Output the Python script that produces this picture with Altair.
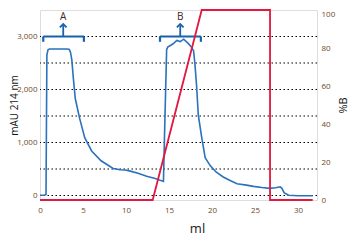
import altair as alt
import pandas as pd

# UV trace (ml, mAU 214 nm)
uv_ml = [0, 0.5, 0.7, 0.8, 0.93, 1.1, 3.2, 3.4, 3.55, 3.7, 3.85, 4.1, 4.6, 5.2, 6.0,
         7.1, 8.5, 9.3, 9.9, 10.5, 11.4, 12.4, 13.4, 14.35, 14.5, 14.72, 14.85, 15.3,
         15.6, 15.9, 16.3, 16.7, 17.2, 17.6, 17.85, 18.0, 18.2, 18.4, 18.8, 19.2, 19.8,
         20.5, 21.3, 22.1, 22.9, 24.0, 24.8, 25.8, 26.7, 27.4, 27.9, 28.1, 28.4, 28.9,
         30.0, 31.7]
uv_mau = [5, 5, 20, 2650, 2750, 2765, 2765, 2755, 2700, 2560, 2260, 1830, 1460, 1090, 840,
          655, 510, 485, 480, 460, 420, 365, 320, 265, 1300, 2750, 2800, 2845,
          2880, 2925, 2905, 2950, 2875, 2800, 2730, 2500, 2075, 1520, 1090, 715, 560,
          440, 350, 283, 222, 195, 172, 150, 135, 145, 165, 140, 50, 5,
          -5, -5]

# Gradient (%B)
b_ml = [0, 13.1, 18.8, 26.74, 26.74, 31.7]
b_pct = [0, 0, 100, 100, 0, 0]

# Fraction brackets
br_label = ["A", "B"]
br_left = [0.38, 13.95]
br_right = [5.1, 18.7]
br_center = [2.7, 16.3]

grid_vals = [0, 500, 1000, 1500, 2000, 2500, 3000]
x_ticks = [0, 5, 10, 15, 20, 25, 30]
y_ticks = [0, 1000, 2000, 3000]
b_ticks = [0, 20, 40, 60, 80, 100]

BLUE = "#2a72bb"
BR = "#1662ad"
RED = "#e3173f"
LBL = "#6b4a2a"
FONT = "Open Sans"

uv = pd.DataFrame({"ml": uv_ml, "mAU": uv_mau, "i": range(len(uv_ml))})
gb = pd.DataFrame({"ml": b_ml, "B": b_pct, "i": range(len(b_ml))})
br = pd.DataFrame({"label": br_label, "l": br_left, "r": br_right, "c": br_center})
br["y0"] = 3000
br["ytk"] = 2900
br["ytop"] = 3210
br["ytxt"] = 3360
grid = pd.DataFrame({"g": grid_vals})

xs = alt.Scale(domain=[0, 32.2], nice=False)
ys = alt.Scale(domain=[-85, 3500], nice=False)

xax = alt.Axis(values=x_ticks, format=".0f", title="ml", ticks=False, domain=False, grid=False,
               labelFlush=False, labelPadding=6, labelColor=LBL, labelFontSize=8,
               labelFont=FONT, titleFont=FONT, titleFontSize=13, titleFontWeight="normal",
               titleColor="#222", titleX=157, titleY=28, titleBaseline="middle")
yax = alt.Axis(values=y_ticks, format=",.0f", title="mAU 214 nm", ticks=False, domain=False,
               grid=False, labelFlush=False, labelPadding=3, labelColor=LBL,
               labelFontSize=8, labelFont=FONT, titleFont=FONT, titleFontSize=10,
               titleFontWeight="normal", titleColor="#111", titleX=-25.5, titleY=95,
               titleAngle=270, titleAlign="center", titleBaseline="middle")
bax = alt.Axis(values=b_ticks, format=".0f", title="%B", orient="right", ticks=False,
               domain=False, grid=False, labelFlush=False, labelPadding=4, labelColor=LBL,
               labelBaseline=alt.condition("datum.value == 100", alt.value("top"),
                                           alt.value("middle")),
               labelFontSize=8, labelFont=FONT, titleFont=FONT, titleFontSize=11,
               titleFontWeight="normal", titleColor="#111", titleX=26, titleY=95,
               titleAngle=270, titleAlign="center", titleBaseline="middle")

gridl = alt.Chart(grid).mark_rule(color="black", strokeDash=[1.5, 2.5], strokeWidth=1.2).encode(
    y=alt.Y("g:Q", scale=ys, axis=yax))

uvline = alt.Chart(uv).mark_line(color=BLUE, strokeWidth=1.6).encode(
    x=alt.X("ml:Q", scale=xs, axis=xax),
    y=alt.Y("mAU:Q", scale=ys),
    order="i:Q")

hbar = alt.Chart(br).mark_rule(color=BR, strokeWidth=2.2).encode(
    x="l:Q", x2="r:Q", y=alt.Y("y0:Q", scale=ys))
ltk = alt.Chart(br).mark_rule(color=BR, strokeWidth=2.2).encode(
    x="l:Q", y=alt.Y("y0:Q", scale=ys), y2="ytk:Q")
rtk = alt.Chart(br).mark_rule(color=BR, strokeWidth=2.2).encode(
    x="r:Q", y=alt.Y("y0:Q", scale=ys), y2="ytk:Q")
shaft = alt.Chart(br).mark_rule(color=BR, strokeWidth=1.8).encode(
    x="c:Q", y=alt.Y("y0:Q", scale=ys), y2="ytop:Q")
head = alt.Chart(br).mark_point(shape="M-1,0.6L0,-0.4L1,0.6", filled=False, color=BR,
                                strokeWidth=1.8, size=45, opacity=1).encode(
    x="c:Q", y=alt.Y("ytop:Q", scale=ys))
txt = alt.Chart(br).mark_text(color="#3a2a2a", fontSize=10, font=FONT).encode(
    x="c:Q", y=alt.Y("ytxt:Q", scale=ys), text="label:N")

left = alt.layer(gridl, uvline, hbar, ltk, rtk, shaft, head, txt)

red = alt.Chart(gb).mark_line(color=RED, strokeWidth=1.8).encode(
    x=alt.X("ml:Q", scale=xs),
    y=alt.Y("B:Q", scale=alt.Scale(domain=[0, 100], nice=False), axis=bax),
    order="i:Q")

chart = alt.layer(left, red).resolve_scale(y="independent").properties(
    width=277, height=190,
    autosize=alt.AutoSizeParams(type="none"),
    padding={"left": 32, "top": 2, "right": 33, "bottom": 37},
).configure_view(stroke="black", strokeWidth=2.5).configure(background="white")

chart.save("out.html", embed_options={"renderer": "svg", "actions": False})
